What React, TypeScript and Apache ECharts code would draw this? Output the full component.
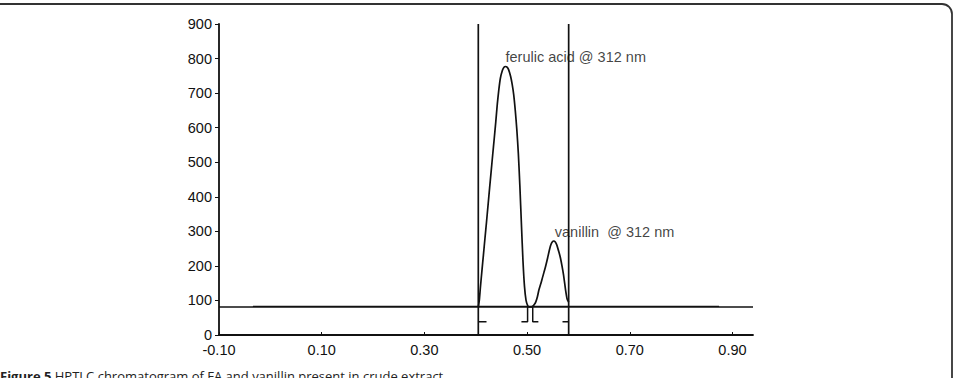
import React, { useEffect, useRef } from "react";
import * as echarts from "echarts";

// Tick labels
const xTickValues = [-0.1, 0.1, 0.3, 0.5, 0.7, 0.9];
const yTickMax = 900;

// Chromatogram trace (Rf, AU)
const traceRf = [
  0.405, 0.407, 0.409, 0.412, 0.415, 0.418, 0.421, 0.424, 0.427, 0.43, 0.433,
  0.436, 0.439, 0.442, 0.445, 0.448, 0.452, 0.455, 0.458, 0.461, 0.464, 0.468,
  0.471, 0.474, 0.477, 0.48, 0.483, 0.486, 0.489, 0.492, 0.495, 0.498, 0.501,
  0.504, 0.507, 0.511, 0.514, 0.517, 0.52, 0.523, 0.527, 0.53, 0.533, 0.536,
  0.54, 0.543, 0.546, 0.549, 0.552, 0.555, 0.558, 0.562, 0.565, 0.568, 0.571,
  0.575, 0.578, 0.581,
];
const traceAU = [
  81, 101, 136, 185, 232, 280, 327, 376, 425, 473, 521,
  568, 616, 668, 710, 743, 766, 775, 777, 775, 768, 748,
  725, 695, 650, 595, 525, 430, 320, 215, 140, 100, 86,
  81, 81, 83, 88, 96, 110, 130, 150, 166, 182, 198,
  223, 243, 260, 269, 272, 269, 260, 240, 223, 200, 174,
  130, 104, 95,
];

// Baseline (two overlapping strokes)
const baselineA = { from: -0.1, to: 0.94, value: 81 };
const baselineB = { from: -0.034, to: 0.874, value: 83 };

// Integration boundary lines
const boundaryRf = [0.405, 0.581];
const boundaryTop = 900;

// Integration bracket marks: each is a list of [Rf, AU] points
const bracketLevel = 38;
const brackets: [number, number][][] = [
  [[0.405, bracketLevel], [0.421, bracketLevel]],
  [[0.489, bracketLevel], [0.501, bracketLevel], [0.501, 81]],
  [[0.511, 81], [0.511, bracketLevel], [0.522, bracketLevel]],
  [[0.569, bracketLevel], [0.581, bracketLevel]],
];

// Peak annotations
const annotations = [
  { name: "ferulic acid @ 312 nm", rf: 0.458, au: 805 },
  { name: "vanillin  @ 312 nm", rf: 0.554, au: 298 },
];

const caption = "Figure 5";
const captionRest = " HPTLC chromatogram of FA and vanillin present in crude extract.";

export default function App() {
  const ref = useRef<HTMLDivElement>(null);
  useEffect(() => {
    if (!ref.current) return;
    const chart = echarts.init(ref.current, undefined, { renderer: "svg" });
    const black = "#111";
    const font = "Liberation Sans, Arial, sans-serif";
    const series: any[] = [];
    series.push({
      type: "line",
      data: [
        [baselineA.from, baselineA.value],
        [baselineA.to, baselineA.value],
      ],
      symbol: "none",
      lineStyle: { color: black, width: 1.4 },
      silent: true,
    });
    series.push({
      type: "line",
      data: [
        [baselineB.from, baselineB.value],
        [baselineB.to, baselineB.value],
      ],
      symbol: "none",
      lineStyle: { color: black, width: 1.2 },
      silent: true,
    });
    boundaryRf.forEach((rf) => {
      series.push({
        type: "line",
        data: [
          [rf, 0],
          [rf, boundaryTop],
        ],
        symbol: "none",
        lineStyle: { color: black, width: 1.7 },
        silent: true,
      });
    });
    brackets.forEach((b) => {
      series.push({
        type: "line",
        data: b,
        symbol: "none",
        lineStyle: { color: black, width: 1.5 },
        silent: true,
      });
    });
    series.push({
      type: "line",
      data: traceRf.map((x, i) => [x, traceAU[i]]),
      symbol: "none",
      smooth: 0.2,
      lineStyle: { color: black, width: 1.7, join: "round" },
      silent: true,
    });
    series.push({
      type: "scatter",
      symbolSize: 0,
      data: annotations.map((a) => ({ name: a.name, value: [a.rf, a.au] })),
      label: {
        show: true,
        position: "right",
        distance: 0,
        formatter: (p: any) => p.name,
        color: "#111",
        fontSize: 14.5,
        fontFamily: font,
      },
      silent: true,
    });

    chart.setOption({
      animation: false,
      grid: { left: 219, right: 204, top: 24, bottom: 43 },
      xAxis: {
        type: "value",
        min: -0.1,
        max: 0.94,
        axisLine: { show: true, onZero: false, lineStyle: { color: black, width: 1.8 } },
        axisTick: {
          show: true,
          inside: true,
          length: 3,
          customValues: xTickValues,
          lineStyle: { color: black, width: 1 },
        },
        axisLabel: {
          customValues: xTickValues,
          formatter: (v: number) => v.toFixed(2),
          color: "#111",
          fontSize: 14.5,
          fontFamily: font,
          margin: 7,
        },
        splitLine: { show: false },
      },
      yAxis: {
        type: "value",
        min: 0,
        max: yTickMax,
        interval: 100,
        axisLine: { show: true, onZero: false, lineStyle: { color: black, width: 1.8 } },
        axisTick: { show: true, inside: false, length: 4, lineStyle: { color: black, width: 1 } },
        axisLabel: {
          color: "#111",
          fontSize: 14.5,
          fontFamily: font,
          margin: 7,
        },
        splitLine: { show: false },
      },
      series,
      graphic: [
        {
          type: "rect",
          shape: { x: -20, y: 4, width: 972, height: 420, r: 10 },
          style: { fill: "none", stroke: "#333", lineWidth: 1.8 },
          silent: true,
        },
        {
          type: "text",
          x: 0,
          y: 376,
          style: {
            text: "{b|" + caption + "}{r|" + captionRest + "}",
            verticalAlign: "middle",
            rich: {
              b: {
                fontFamily: "Open Sans, sans-serif",
                fontWeight: "bold",
                fontSize: 13,
                fill: "#222",
              },
              r: {
                fontFamily: "Open Sans, sans-serif",
                fontSize: 13,
                fill: "#222",
              },
            },
          },
          silent: true,
        },
      ],
    });
    return () => chart.dispose();
  }, []);
  return (
    <div
      ref={ref}
      style={{ position: "fixed", left: 0, top: 0, width: 957, height: 378, background: "#fff" }}
    />
  );
}
